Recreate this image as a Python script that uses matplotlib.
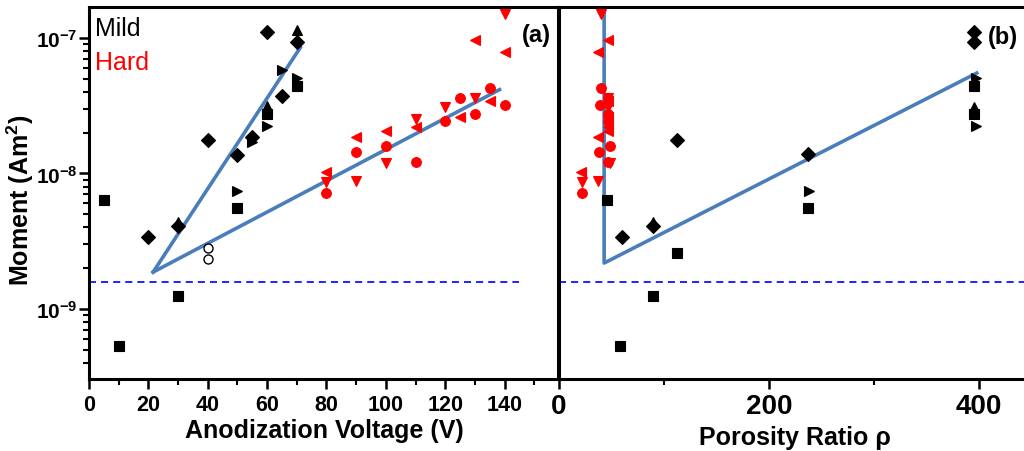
import matplotlib
matplotlib.use("Agg")
import matplotlib.pyplot as plt
from matplotlib.ticker import LogLocator, NullFormatter, FixedLocator, FixedFormatter, MultipleLocator

plt.rcParams['font.family'] = ['Liberation Sans', 'DejaVu Sans']
plt.rcParams['mathtext.fontset'] = 'custom'
plt.rcParams['mathtext.rm'] = 'Liberation Sans'
plt.rcParams['mathtext.bf'] = 'Liberation Sans:bold'

# --- mild anodization, moment vs anodization voltage ---
mild_sq_v = [5, 10, 30, 50, 60, 70]
mild_sq_m = [6.4e-9, 5.3e-10, 1.25e-9, 5.6e-9, 2.75e-8, 4.4e-8]
mild_dia_v = [20, 30, 40, 50, 55, 60, 65, 70]
mild_dia_m = [3.4e-9, 4.1e-9, 1.77e-8, 1.37e-8, 1.85e-8, 1.1e-7, 3.7e-8, 9.3e-8]
mild_tup_v = [30, 60, 70]
mild_tup_m = [4.4e-9, 3.15e-8, 1.15e-7]
mild_tri_v = [50, 55, 60, 65, 70]
mild_tri_m = [7.4e-9, 1.7e-8, 2.24e-8, 5.8e-8, 5.1e-8]
mild_open_v = [40, 40]
mild_open_m = [2.8e-9, 2.35e-9]

# --- hard anodization, moment vs anodization voltage ---
hard_tl_v = [80, 90, 100, 110, 125, 130, 135, 140]
hard_tl_m = [1.02e-8, 1.85e-8, 2.05e-8, 2.2e-8, 2.6e-8, 9.7e-8, 3.4e-8, 7.9e-8]
hard_td_v = [80, 90, 100, 110, 120, 130, 140]
hard_td_m = [8.7e-9, 8.8e-9, 1.2e-8, 2.5e-8, 3.1e-8, 3.6e-8, 1.5e-7]
hard_ci_v = [80, 90, 100, 110, 120, 125, 130, 135, 140]
hard_ci_m = [7.2e-9, 1.44e-8, 1.6e-8, 1.22e-8, 2.45e-8, 3.6e-8, 2.75e-8, 4.3e-8, 3.2e-8]

# --- porosity ratio of the same samples ---
mild_sq_rho = [46, 58, 90, 112, 237, 395, 395]
mild_sq_mb = [6.4e-9, 5.3e-10, 1.25e-9, 2.57e-9, 5.6e-9, 4.4e-8, 2.75e-8]
mild_dia_rho = [60, 90, 112, 237, 395, 395]
mild_dia_mb = [3.4e-9, 4.1e-9, 1.77e-8, 1.39e-8, 1.1e-7, 9.3e-8]
mild_tup_rho = [90, 395]
mild_tup_mb = [4.4e-9, 3.1e-8]
mild_tri_rho = [238, 397, 397]
mild_tri_mb = [7.4e-9, 5.1e-8, 2.24e-8]
hard_tl_rho = [21, 37, 47, 47, 47, 47, 47, 37]
hard_td_rho = [22, 37, 49, 47, 47, 47, 40]
hard_ci_rho = [22, 38, 49, 47, 47, 47, 47, 40, 39]

# fitted trends and noise floor
fit_mild_v = [21.6, 71.2]
fit_mild_m = [1.87e-9, 8.5e-8]
fit_hard_v = [21.6, 138.3]
fit_hard_m = [1.87e-9, 4.15e-8]
fit_rho = [43, 43, 398]
fit_rho_m = [1.58e-7, 2.18e-9, 5.5e-8]
noise_floor = 1.58e-9

RED = '#ff0000'
FIT = '#4a7ebb'
DASH = '#1010ff'

fig = plt.figure(figsize=(10.24, 4.52), dpi=100)
W, H = 1024, 452
ax_a = fig.add_axes([89 / W, 1 - 380 / H, 469 / W, 372 / H])
ax_b = fig.add_axes([559 / W, 1 - 380 / H, 465 / W, 372 / H])


def pts(ax, x, y, marker, color, ms, filled=True):
    ax.plot(x, y, linestyle='none', marker=marker, ms=ms,
            mfc=color if filled else 'white', mec=color, mew=0.8 if filled else 1.0,
            zorder=3)


for ax in (ax_a, ax_b):
    ax.set_yscale('log')
    ax.set_ylim(3.04e-10, 1.69e-7)
    for s in ax.spines.values():
        s.set_linewidth(2.2)

# panel (a)
ax_a.plot(fit_mild_v, fit_mild_m, color=FIT, lw=2.6, zorder=2)
ax_a.plot(fit_hard_v, fit_hard_m, color=FIT, lw=2.6, zorder=2)
ax_a.plot([0, 145], [noise_floor, noise_floor], color=DASH, lw=1.3,
          linestyle=(0, (3.9, 2.8)), zorder=1)
pts(ax_a, mild_sq_v, mild_sq_m, 's', 'k', 6.5)
pts(ax_a, mild_dia_v, mild_dia_m, 'D', 'k', 6.8)
pts(ax_a, mild_tup_v, mild_tup_m, '^', 'k', 7.5)
pts(ax_a, mild_tri_v, mild_tri_m, '>', 'k', 7.5)
pts(ax_a, mild_open_v, mild_open_m, 'o', 'k', 6.5, filled=False)
pts(ax_a, hard_tl_v, hard_tl_m, '<', RED, 7.5)
pts(ax_a, hard_td_v, hard_td_m, 'v', RED, 7.5)
pts(ax_a, hard_ci_v, hard_ci_m, 'o', RED, 7)

ax_a.set_xlim(0, 158)
ax_a.xaxis.set_major_locator(FixedLocator([0, 20, 40, 60, 80, 100, 120, 140]))
ax_a.xaxis.set_minor_locator(FixedLocator([10, 30, 50, 70, 90, 110, 130, 150]))
ax_a.yaxis.set_major_locator(FixedLocator([1e-9, 1e-8, 1e-7]))
ax_a.yaxis.set_major_formatter(FixedFormatter([r'$\mathbf{10^{-9}}$', r'$\mathbf{10^{-8}}$',
                                                r'$\mathbf{10^{-7}}$']))
ax_a.yaxis.set_minor_locator(LogLocator(base=10, subs=range(2, 10), numticks=20))
ax_a.yaxis.set_minor_formatter(NullFormatter())
ax_a.tick_params(axis='both', which='major', direction='out', length=7, width=1.8)
ax_a.tick_params(axis='both', which='minor', direction='out', length=4, width=1.5)
ax_a.tick_params(axis='x', which='major', labelsize=15.5, pad=4)
ax_a.tick_params(axis='y', which='major', labelsize=15, pad=1.5)
for lab in ax_a.get_xticklabels():
    lab.set_fontweight('bold')

ax_a.text(0.013, 0.925, 'Mild', color='k', fontsize=18, transform=ax_a.transAxes,
          ha='left', va='baseline')
ax_a.text(0.013, 0.833, 'Hard', color=RED, fontsize=18, transform=ax_a.transAxes,
          ha='left', va='baseline')
ax_a.text(0.953, 0.927, '(a)', fontsize=17, fontweight='bold', transform=ax_a.transAxes,
          ha='center', va='center')

# panel (b)
ax_b.plot(fit_rho, fit_rho_m, color=FIT, lw=2.6, zorder=2)
ax_b.axhline(noise_floor, color=DASH, lw=1.3, linestyle=(0, (3.9, 2.8)), zorder=1)
pts(ax_b, mild_sq_rho, mild_sq_mb, 's', 'k', 6.5)
pts(ax_b, mild_dia_rho, mild_dia_mb, 'D', 'k', 6.8)
pts(ax_b, mild_tup_rho, mild_tup_mb, '^', 'k', 7.5)
pts(ax_b, mild_tri_rho, mild_tri_mb, '>', 'k', 7.5)
pts(ax_b, hard_tl_rho, hard_tl_m, '<', RED, 7.5)
pts(ax_b, hard_td_rho, hard_td_m, 'v', RED, 7.5)
pts(ax_b, hard_ci_rho, hard_ci_m, 'o', RED, 7)

ax_b.set_xlim(0, 443)
ax_b.spines['right'].set_visible(False)
ax_b.xaxis.set_major_locator(MultipleLocator(200))
ax_b.xaxis.set_minor_locator(MultipleLocator(100))
ax_b.tick_params(axis='y', which='both', left=False, labelleft=False)
ax_b.tick_params(axis='x', which='major', direction='out', length=7, width=1.8,
                 labelsize=20, pad=3)
ax_b.tick_params(axis='x', which='minor', direction='out', length=4, width=1.5)
for lab in ax_b.get_xticklabels():
    lab.set_fontweight('bold')
ax_b.text(0.955, 0.92, '(b)', fontsize=17, fontweight='bold', transform=ax_b.transAxes,
          ha='center', va='center')

# axis titles
fig.text(324 / W, 1 - 431 / H, 'Anodization Voltage (V)', fontsize=18, fontweight='bold',
         ha='center', va='center')
fig.text(795 / W, 1 - 438 / H, 'Porosity Ratio ρ', fontsize=18, fontweight='bold',
         ha='center', va='center')
fig.text(20 / W, 1 - 200 / H, r'Moment (Am$\mathbf{^2}$)', fontsize=18, fontweight='bold',
         rotation=90, ha='center', va='center')

fig.savefig('out.png', dpi=100)
